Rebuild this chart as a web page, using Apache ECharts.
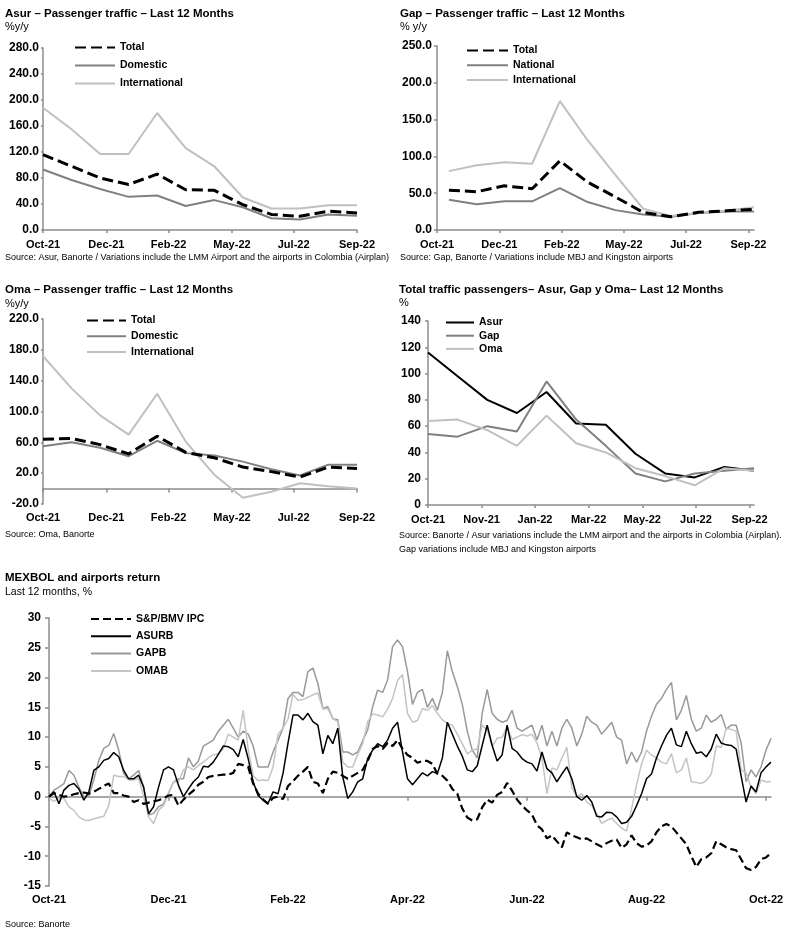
<!DOCTYPE html>
<html>
<head>
<meta charset="utf-8">
<script src="https://cdn.jsdelivr.net/npm/echarts@6/dist/echarts.min.js"></script>
<style>
html,body{margin:0;padding:0;background:#fff;}
#c{width:794px;height:952px;}
</style>
</head>
<body>
<div id="c"></div>
<script>
// ---------- DATA ----------
const monthIdx = [0,1,2,3,4,5,6,7,8,9,10,11]; // Oct-21 .. Sep-22

const asurTotal = [116, 98, 80, 70, 86, 62, 61, 39, 24, 21, 29, 26];
const asurDomestic = [93, 77, 63, 51, 53, 37, 46, 35, 18, 16, 24, 22];
const asurInternational = [188, 155, 117, 117, 180, 126, 98, 50, 33, 33, 38, 38];

const gapTotal = [54, 52, 60, 56, 94, 65, 45, 24, 18, 24, 26, 28];
const gapNational = [41, 35, 39, 39, 57, 38, 27, 21, 18, 23, 25, 25];
const gapInternational = [80, 88, 92, 90, 175, 122, 75, 29, 19, 23, 26, 31];

const omaTotal = [64, 65, 57, 45, 68, 47, 40, 28, 22, 15, 28, 26];
const omaDomestic = [55, 60, 53, 42, 62, 46, 43, 35, 25, 17, 31, 31];
const omaInternational = [172, 130, 95, 70, 123, 61, 18, -12, -4, 7, 3, 0];

const tickLabels6 = ['Oct-21','Dec-21','Feb-22','May-22','Jul-22','Sep-22'];
const tickLabels7 = ['Oct-21','Nov-21','Jan-22','Mar-22','May-22','Jul-22','Sep-22'];
const tickLabelsReturn = ['Oct-21','Dec-21','Feb-22','Apr-22','Jun-22','Aug-22','Oct-22'];

// daily-ish samples, Oct-21 .. early Oct-22 (146 samples)
const ipc = [0,0.6,0.3,0,0.1,0.4,0.6,0.7,0.5,0.8,
1.3,1.8,2.2,0.6,0.6,0.2,0,-0.9,-0.6,-1.2,
-1.0,-0.8,-0.6,-0.3,0.2,0.3,-1.5,-0.5,0.3,1.0,
2.0,2.5,3.3,3.5,3.6,3.7,3.7,4.0,5.5,5.3,
5.0,2.2,0.5,-0.5,-1.2,-0.2,0.0,-0.4,1.8,2.6,
3.5,4.2,5.0,2.5,2.2,0.6,3.0,4.2,4.0,3.5,
3.0,3.5,4.0,4.5,6.0,8.0,8.5,8.0,9.0,8.5,
9.5,8.0,7.0,6.5,5.7,6.0,6.0,5.5,3.8,3.5,
2.7,1.3,0.5,-2.0,-3.5,-4.0,-3.8,-1.8,-0.5,-1.0,
0.3,0.8,2.3,1.0,-0.5,-1.5,-2.3,-3.0,-4.8,-5.5,
-7.0,-6.5,-7.5,-8.5,-6.0,-6.5,-6.8,-7.2,-7.0,-7.5,
-8.0,-8.4,-7.8,-7.4,-7.2,-8.6,-8.0,-6.5,-7.8,-8.4,
-8.2,-7.5,-6.0,-5.0,-4.6,-5.0,-6.0,-7.0,-8.0,-10.0,
-11.8,-10.5,-10.2,-9.5,-7.5,-8.0,-8.5,-8.8,-9.0,-10.5,
-12.0,-12.3,-11.8,-10.5,-10.2,-9.5];

const asurb = [0,0.8,-1.2,1.1,1.9,2.2,1.3,-0.6,0.8,4.4,
5.0,6.1,6.4,7.4,6.7,4.4,3.0,3.0,3.6,1.6,
-2.9,-1.7,1.6,4.5,5.0,4.5,1.9,0,1.3,2.5,
3.3,5.1,5.0,5.8,7.1,8.5,8.4,7.9,6.7,9.6,
6.4,2.5,0.2,-0.6,-1.1,0.8,0.5,3.9,9.0,13.7,
13.7,12.9,14.0,12.6,12.0,7.2,10.3,8.9,11.5,3.3,
-0.3,0.8,2.5,3.0,6.4,7.8,8.9,8.4,9.5,11.5,
12.5,7.5,3.0,2.0,3.0,4.0,3.5,4.2,3.9,6.5,
12.5,10.5,8.5,6.8,4.5,4.2,5.2,8.6,12.0,8.6,
6.0,7.0,12.0,8.1,7.5,6.4,5.8,5.5,4.3,7.5,
4.7,4.0,2.5,3.8,5.0,3.0,0.0,-0.6,0.2,-0.9,
-3.3,-3.4,-2.6,-2.7,-3.4,-4.5,-4.3,-3.3,-1.5,0.5,
3.0,3.8,6.5,8.5,10.3,11.5,8.7,8.4,11.0,8.9,
7.3,7.5,6.7,8.0,10.5,9.0,8.7,8.6,8.0,3.5,
-0.9,1.8,0.8,4.0,5.0,5.8];

const gapb = [0,1.1,1.6,2.2,4.4,3.6,1.6,0,0.2,2.8,
6.1,8.1,8.6,10.6,7.8,3.9,3.0,3.6,4.4,1.6,
-3.1,-2.8,-1.7,-1.2,0.6,2.5,3.0,3.0,6.5,5.0,
6.0,8.5,9.0,9.5,11.0,12.0,13.0,11.5,10.0,11.0,
10.5,8.5,5.0,5.0,5.0,7.5,9.5,11.5,16.5,17.5,
17.5,16.8,21.0,21.6,19.0,14.8,15.1,13.1,12.9,7.5,
7.5,7.0,7.5,9.4,11.2,15.1,17.9,17.5,19.6,25.2,
26.3,25.2,21.0,15.5,17.5,18.0,15.0,16.5,14.5,17.5,
24.5,21.0,18.5,15.5,11.0,7.8,6.5,14.0,18.0,14.0,
13.0,12.5,12.8,14.5,11.5,11.0,11.5,12.0,9.5,12.0,
8.5,11.0,8.5,11.5,13.0,11.5,8.5,10.5,13.5,12.5,
12.0,10.5,11.5,12.5,10.0,9.5,5.5,7.5,5.8,7.5,
11.0,13.5,15.5,16.5,18.0,19.2,12.9,14.5,17.0,13.0,
11.0,11.5,13.7,12.5,13.0,13.8,11.3,12.0,12.0,9.0,
2.5,4.5,3.3,5.0,7.8,9.8];

const omab = [-0.3,-0.8,-0.3,-0.3,-1.7,-2.3,-3.4,-3.9,-4.0,-3.7,
-3.5,-3.3,-1.5,3.6,3.4,3.4,2.8,2.8,3.1,0,
-3.4,-4.5,-2.3,-1.5,0.5,2.5,2.5,4.5,5.0,4.5,
5.2,5.8,6.5,7.0,7.2,8.0,10.5,10.0,9.5,14.5,
8.0,3.5,2.7,2.8,2.7,5.0,10.5,11.5,13.0,17.2,
16.2,16.3,16.7,17.1,17.4,14.7,14.8,13.1,12.6,5.8,
5.0,5.0,7.1,8.9,12.6,13.9,13.7,13.4,14.7,16.5,
19.5,20.5,14.0,12.5,12.8,14.8,14.5,15.3,14.0,12.9,
12.3,12.0,10.5,8.9,7.2,7.8,8.0,12.0,11.2,8.5,
9.8,10.0,11.7,9.6,10.0,10.4,10.2,10.5,9.0,6.5,
0.5,4.8,4.5,6.5,8.3,1.5,0.0,0.5,-0.9,-1.5,
-2.9,-4.5,-4.0,-3.6,-4.5,-5.3,-5.8,-2.0,2.0,5.5,
7.8,7.0,6.5,5.8,5.5,7.2,4.0,4.5,6.5,2.5,
2.4,2.2,2.7,3.8,8.5,8.3,11.5,11.3,11.0,4.5,
4.0,1.6,0.5,2.8,2.5,2.5];

// ---------- HELPERS ----------
const FONT = "'Liberation Sans', Arial, Helvetica, sans-serif";
const AX = '#8c8c8c';
const C_BLACK = '#000000', C_MID = '#808080', C_LIGHT = '#c0c0c0';

function pairs(xs, ys){ return ys.map((v,i)=>[xs[i], v]); }
function idxPairs(ys){ return ys.map((v,i)=>[i, v]); }
function labelFn(pos, labels){
  return function(v){
    for (let k=0;k<pos.length;k++){ if (Math.abs(pos[k]-v) < 1e-6) return labels[k]; }
    return '';
  };
}
const tickFont = {fontFamily: FONT, fontWeight: 'bold', color: '#000'};

function xAxisBottom(grid, min, max, pos, labels, opts){
  opts = opts || {};
  return {
    gridIndex: grid, type: 'value', min: min, max: max, position: 'bottom',
    axisLine: {show: opts.line !== false, onZero: false, lineStyle: {color: AX, width: 1.5}},
    axisTick: {show: opts.line !== false, length: 3, customValues: pos, lineStyle: {color: AX, width: 1.5}},
    axisLabel: Object.assign({customValues: pos, formatter: labelFn(pos, labels), margin: opts.margin || 8, fontSize: opts.fs || 11}, tickFont),
    splitLine: {show: false}
  };
}
function xAxisZero(grid, min, max, pos){
  return {
    gridIndex: grid, type: 'value', min: min, max: max, position: 'bottom',
    axisLine: {show: true, onZero: true, lineStyle: {color: AX, width: 1.5}},
    axisTick: {show: true, length: 4, customValues: pos, lineStyle: {color: AX, width: 1.5}},
    axisLabel: {show: false},
    splitLine: {show: false}
  };
}
function yAxis(grid, min, max, interval, dec, opts){
  opts = opts || {};
  const a = {
    gridIndex: grid, type: 'value', min: min, max: max,
    axisLine: {show: true, onZero: false, lineStyle: {color: AX, width: 1.5}},
    axisTick: {show: true, length: opts.tick || 3, lineStyle: {color: AX, width: 1.5}},
    axisLabel: Object.assign({margin: opts.margin || 3, fontSize: opts.fs || 11.5, formatter: v => (+v).toFixed(dec)}, tickFont),
    splitLine: {show: false}
  };
  if (opts.custom) { a.axisLabel.customValues = opts.custom; a.axisTick.customValues = opts.custom; }
  else a.interval = interval;
  return a;
}
function line(name, x, y, data, color, width, dash, z){
  return {
    name: name, type: 'line', xAxisIndex: x, yAxisIndex: y, data: data,
    symbol: 'none', showSymbol: false, smooth: false, z: z || 2,
    lineStyle: {color: color, width: width, type: dash || 'solid'},
    itemStyle: {color: color}, emphasis: {disabled: true}
  };
}
function legend(names, left, top, itemWidth, gap){
  return {
    data: names, orient: 'vertical', left: left, top: top,
    itemWidth: itemWidth, itemHeight: 10, itemGap: gap, selectedMode: false,
    padding: 0,
    itemStyle: {opacity: 0, borderWidth: 0},
    textStyle: {fontFamily: FONT, fontWeight: 'bold', fontSize: 10.5, color: '#000'}
  };
}
function txt(x, y, s, font){
  return {type: 'text', x: x, y: y, silent: true,
    style: {text: s, font: font, fill: '#000', verticalAlign: 'middle', align: 'left'}};
}

// tick positions (in month index units)
const pos6 = [0, 2.22, 4.4, 6.62, 8.78, 11];
const pos6b = [-0.43, 1.82, 4.07, 6.31, 8.55, 10.8];
const pos7 = [0, 1.81, 3.61, 5.42, 7.23, 9.04, 10.85];
const posR = [0, 24, 48, 72, 96, 120, 144];

const chart = echarts.init(document.getElementById('c'), null, {renderer: 'canvas'});
chart.setOption({
  animation: false,
  backgroundColor: '#fff',
  grid: [
    {left: 43, top: 48, width: 314, height: 182},
    {left: 437, top: 46, width: 317, height: 184},
    {left: 43, top: 319, width: 314, height: 185},
    {left: 428, top: 321, width: 326, height: 184},
    {left: 49, top: 618, width: 722, height: 268}
  ],
  xAxis: [
    xAxisBottom(0, 0, 11, pos6, tickLabels6, {margin: 9}),
    xAxisBottom(1, -0.43, 11, pos6b, tickLabels6, {margin: 9}),
    xAxisBottom(2, 0, 11, pos6, tickLabels6, {line: false, margin: 8}),
    xAxisZero(2, 0, 11, pos6),
    xAxisBottom(3, 0, 11, pos7, tickLabels7, {margin: 9}),
    xAxisBottom(4, 0, 145, posR, tickLabelsReturn, {line: false, margin: 8}),
    xAxisZero(4, 0, 145, posR)
  ],
  yAxis: [
    yAxis(0, 0, 280, 40, 1, {margin: 4, tick: 2, fs: 12}),
    yAxis(1, 0, 250, 50, 1, {margin: 5, tick: 3, fs: 12}),
    yAxis(2, -20, 220, 40, 1, {margin: 4, tick: 2, fs: 12, custom: [-20, 20, 60, 100, 140, 180, 220]}),
    yAxis(3, 0, 140, 20, 0, {margin: 7, tick: 3, fs: 12}),
    yAxis(4, -15, 30, 5, 0, {margin: 8, tick: 4, fs: 12})
  ],
  legend: [
    legend(['Total','Domestic','International'], 74, 42, 40, 7),
    legend(['Total','National','International'], 466, 45, 41, 3.7),
    legend(['Total','Domestic','International'], 86, 315, 39, 4.7),
    legend(['Asur','Gap','Oma'], 445, 317, 28, 2.2),
    legend(['S&P/BMV IPC','ASURB','GAPB','OMAB'], 90, 613.5, 40, 6.3)
  ],
  graphic: [
    txt(5, 14, 'Asur – Passenger traffic – Last 12 Months', 'bold 11.5px ' + FONT),
    txt(5, 27, '%y/y', '11px ' + FONT),
    txt(5, 258, 'Source: Asur, Banorte / Variations include the LMM Airport and the airports in Colombia (Airplan)', '9px ' + FONT),
    txt(400, 14, 'Gap – Passenger traffic – Last 12 Months', 'bold 11.5px ' + FONT),
    txt(400, 27, '% y/y', '11px ' + FONT),
    txt(400, 258, 'Source: Gap, Banorte / Variations include MBJ and Kingston airports', '9px ' + FONT),
    txt(5, 290, 'Oma – Passenger traffic – Last 12 Months', 'bold 11.5px ' + FONT),
    txt(5, 304, '%y/y', '11px ' + FONT),
    txt(5, 535, 'Source: Oma, Banorte', '9px ' + FONT),
    txt(399, 290, 'Total traffic passengers– Asur, Gap y Oma– Last 12 Months', 'bold 11.5px ' + FONT),
    txt(399, 303, '%', '11px ' + FONT),
    txt(399, 536, 'Source: Banorte / Asur variations include the LMM airport and the airports in Colombia (Airplan).', '9px ' + FONT),
    txt(399, 550, 'Gap variations include MBJ and Kingston airports', '9px ' + FONT),
    txt(5, 578, 'MEXBOL and airports return', 'bold 11.5px ' + FONT),
    txt(5, 592, 'Last 12 months, %', '10.5px ' + FONT),
    txt(5, 925, 'Source: Banorte', '9px ' + FONT)
  ],
  series: [
    line('Total', 0, 0, pairs(monthIdx, asurTotal), C_BLACK, 3, [11, 5], 4),
    line('Domestic', 0, 0, pairs(monthIdx, asurDomestic), C_MID, 2),
    line('International', 0, 0, pairs(monthIdx, asurInternational), C_LIGHT, 2),

    line('Total', 1, 1, pairs(monthIdx, gapTotal), C_BLACK, 3, [11, 5], 4),
    line('National', 1, 1, pairs(monthIdx, gapNational), C_MID, 2),
    line('International', 1, 1, pairs(monthIdx, gapInternational), C_LIGHT, 2),

    line('Total', 2, 2, pairs(monthIdx, omaTotal), C_BLACK, 3, [11, 5], 4),
    line('Domestic', 2, 2, pairs(monthIdx, omaDomestic), C_MID, 2),
    line('International', 2, 2, pairs(monthIdx, omaInternational), C_LIGHT, 2),

    line('Asur', 4, 3, pairs(monthIdx, asurTotal), C_BLACK, 2),
    line('Gap', 4, 3, pairs(monthIdx, gapTotal), C_MID, 2),
    line('Oma', 4, 3, pairs(monthIdx, omaTotal), C_LIGHT, 2),

    line('S&P/BMV IPC', 5, 4, idxPairs(ipc), C_BLACK, 2.2, [8, 4], 3),
    line('ASURB', 5, 4, idxPairs(asurb), C_BLACK, 1.5, 'solid', 3),
    line('GAPB', 5, 4, idxPairs(gapb), '#999999', 1.5),
    line('OMAB', 5, 4, idxPairs(omab), '#c4c4c4', 1.5)
  ]
});
</script>
</body>
</html>
